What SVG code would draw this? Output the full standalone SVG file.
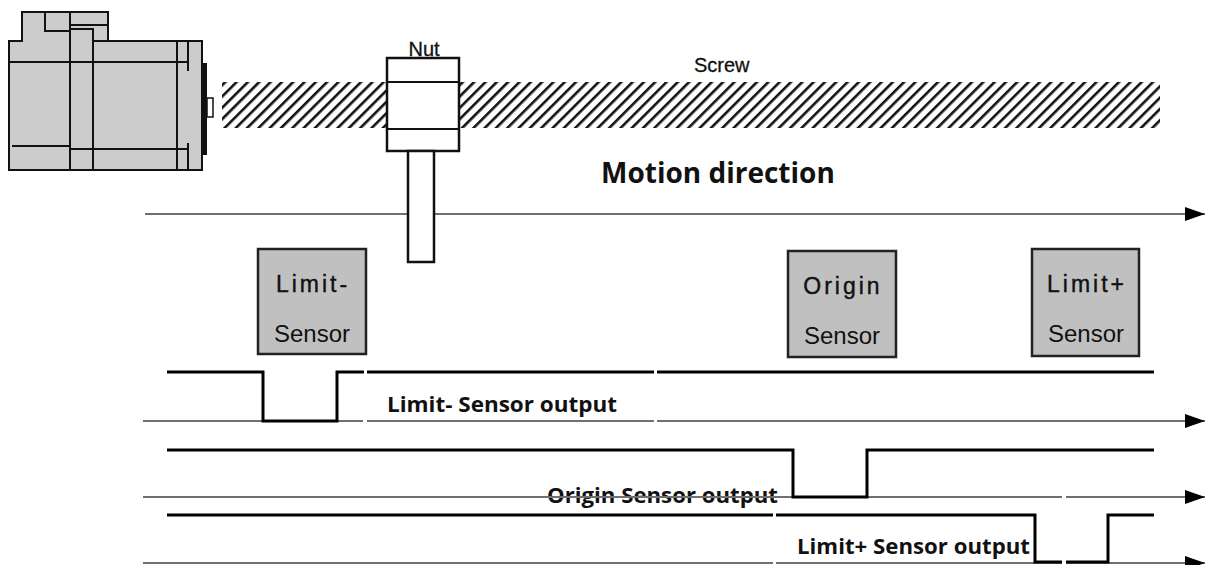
<svg xmlns="http://www.w3.org/2000/svg" width="1206" height="565" viewBox="0 0 1206 565">
<defs>
<pattern id="hatch" patternUnits="userSpaceOnUse" width="8" height="10" patternTransform="rotate(45)">
<rect x="0" y="0" width="2.6" height="10" fill="#111"/>
</pattern>
<marker id="arr" viewBox="0 0 20 14" refX="20" refY="7" markerWidth="20" markerHeight="14" markerUnits="userSpaceOnUse" orient="auto">
<path d="M0,0 L20,7 L0,14 Z" fill="#000"/>
</marker>
<style>
.m{fill:none;stroke:#111;stroke-width:2}
.sig{fill:none;stroke:#000;stroke-width:3}
.ax{fill:none;stroke:#707070;stroke-width:2}
.box{fill:#c0c0c0;stroke:#222;stroke-width:2.5}
.bt{font-family:"Liberation Sans",Arial,sans-serif;font-size:24px;fill:#111}
.bt1{font-family:"Liberation Sans",Arial,sans-serif;font-size:23px;fill:#111;stroke:#111;stroke-width:0.4;letter-spacing:3px}
.lb{font-family:"Open Sans","Noto Sans",sans-serif;font-weight:bold;font-size:21px;fill:#111}
.sm{font-family:"Liberation Sans",Arial,sans-serif;font-size:20px;fill:#111;stroke:#111;stroke-width:0.3}
</style>
</defs>
<rect width="1206" height="565" fill="#fff"/>

<g id="motor">
<path d="M9,41 L22,41 L22,12 L108,12 L108,41 L202,41 L202,170 L9,170 Z" fill="#cccccc" stroke="#111" stroke-width="2"/>
<line class="m" x1="35" y1="12" x2="66" y2="12" stroke-width="4"/>
<line class="m" x1="93" y1="41" x2="108" y2="41"/>
<polyline class="m" points="45,12 45,31 70,31"/>
<polyline class="m" points="70,29 93,29 93,170"/>
<line class="m" x1="70" y1="12" x2="70" y2="170"/>
<line class="m" x1="70" y1="25" x2="108" y2="25"/>
<line class="m" x1="9" y1="62" x2="188" y2="62"/>
<line class="m" x1="177" y1="41" x2="177" y2="170"/>
<line class="m" x1="188" y1="41" x2="188" y2="71"/>
<line class="m" x1="188" y1="143" x2="188" y2="170"/>
<line class="m" x1="12" y1="146" x2="70" y2="146"/>
<line class="m" x1="70" y1="149" x2="188" y2="149"/>
<rect x="202" y="63" width="5" height="92" fill="#111"/>
<rect x="207" y="98" width="6" height="19" fill="#fff" stroke="#111" stroke-width="1.5"/>
</g>

<g id="screw">
<rect x="222" y="82" width="938" height="46" fill="url(#hatch)"/>
<text class="sm" x="694" y="72">Screw</text>
</g>

<text class="lb" x="547" y="503" textLength="231" lengthAdjust="spacingAndGlyphs">Origin Sensor output</text>

<g id="connectors">
<line class="ax" x1="145" y1="214" x2="1205" y2="214" marker-end="url(#arr)"/>
<line class="ax" x1="143" y1="421" x2="363" y2="421"/>
<line class="ax" x1="367" y1="421" x2="654" y2="421"/>
<line class="ax" x1="657" y1="421" x2="1205" y2="421" marker-end="url(#arr)"/>
<line class="ax" x1="143" y1="497" x2="1062" y2="497"/>
<line class="ax" x1="1066" y1="497" x2="1205" y2="497" marker-end="url(#arr)"/>
<line class="ax" x1="143" y1="563" x2="773" y2="563"/>
<line class="ax" x1="776" y1="563" x2="1062" y2="563"/>
<line class="ax" x1="1066" y1="563" x2="1205" y2="563" marker-end="url(#arr)"/>

<polyline class="sig" points="167,372 263,372 263,421 337,421 337,372 364,372"/>
<line class="sig" x1="367" y1="372" x2="654" y2="372"/>
<line class="sig" x1="657" y1="372" x2="1154" y2="372"/>
<polyline class="sig" points="167,450 793,450 793,497 867,497 867,450 1154,450"/>
<line class="sig" x1="167" y1="515" x2="773" y2="515"/>
<polyline class="sig" points="776,515 1035,515 1035,562 1062,562"/>
<polyline class="sig" points="1066,562 1108,562 1108,515 1154,515"/>
</g>

<g id="nut">
<rect x="387" y="58" width="72" height="93" fill="#fff" stroke="#111" stroke-width="2.5"/>
<line class="m" x1="387" y1="82" x2="459" y2="82" stroke-width="2.5"/>
<line class="m" x1="387" y1="129" x2="459" y2="129" stroke-width="2.5"/>
<rect x="408" y="151" width="26" height="111" fill="#fff" stroke="#111" stroke-width="2.5"/>
<text class="sm" x="424" y="56" text-anchor="middle">Nut</text>
</g>

<text x="601" y="183" font-family="'Open Sans','Noto Sans',sans-serif" font-weight="bold" font-size="28" fill="#111">Motion direction</text>

<g id="limit-minus-sensor">
<rect class="box" x="258" y="249" width="108" height="105"/>
<text class="bt1" x="313" y="292" text-anchor="middle">Limit-</text>
<text class="bt" x="312" y="342" text-anchor="middle">Sensor</text>
</g>
<g id="origin-sensor">
<rect class="box" x="788" y="251" width="108" height="106"/>
<text class="bt1" x="843" y="294" text-anchor="middle">Origin</text>
<text class="bt" x="842" y="344" text-anchor="middle">Sensor</text>
</g>
<g id="limit-plus-sensor">
<rect class="box" x="1032" y="249" width="107" height="107"/>
<text class="bt1" x="1087" y="292" text-anchor="middle">Limit+</text>
<text class="bt" x="1086" y="342" text-anchor="middle">Sensor</text>
</g>

<text class="lb" x="387" y="412" textLength="230" lengthAdjust="spacingAndGlyphs">Limit- Sensor output</text>
<text class="lb" x="797" y="554" textLength="233" lengthAdjust="spacingAndGlyphs">Limit+ Sensor output</text>
</svg>
